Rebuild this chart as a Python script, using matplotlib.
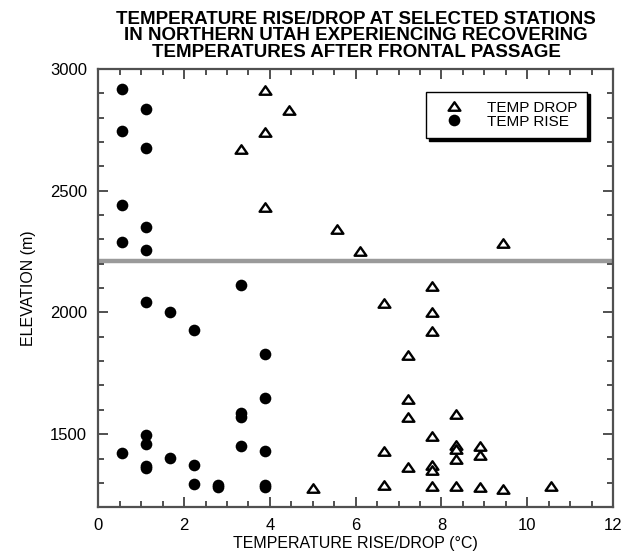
import numpy as np
import matplotlib
matplotlib.use("Agg")
import matplotlib.pyplot as plt
from matplotlib.path import Path
from matplotlib.ticker import MultipleLocator

# temperature rise (recovering stations), deg C and elevation (m)
rise_temp = [0.56, 0.56, 0.56, 0.56, 0.56,
             1.11, 1.11, 1.11, 1.11, 1.11, 1.11, 1.11, 1.11, 1.11,
             1.67, 1.67,
             2.22, 2.22, 2.22,
             2.78, 2.78,
             3.33, 3.33, 3.33, 3.33,
             3.89, 3.89, 3.89, 3.89, 3.89]
rise_elev = [2917, 2745, 2440, 2290, 1422,
             2836, 2673, 2352, 2258, 2043, 1497, 1460, 1370, 1363,
             2002, 1404,
             1928, 1374, 1295,
             1292, 1284,
             2114, 1589, 1572, 1453,
             1830, 1648, 1433, 1290, 1282]

# temperature drop
drop_temp = [3.33,
             3.89, 3.89, 3.89,
             4.44,
             5.00,
             5.56,
             6.11,
             6.67, 6.67, 6.67,
             7.22, 7.22, 7.22, 7.22,
             7.78, 7.78, 7.78, 7.78, 7.78, 7.78, 7.78,
             8.33, 8.33, 8.33, 8.33, 8.33,
             8.89, 8.89, 8.89,
             9.44, 9.44,
             10.56]
drop_elev = [2670,
             2911, 2740, 2434,
             2832,
             1279,
             2344,
             2254,
             2040, 1429, 1292,
             1825, 1645, 1570, 1367,
             2109, 2001, 1924, 1493, 1373, 1355, 1288,
             1583, 1456, 1438, 1397, 1288,
             1452, 1415, 1283,
             2283, 1275,
             1288]

divide_elev = 2210

plt.rcParams['font.family'] = ['Liberation Sans', 'DejaVu Sans']

frame = '#505050'
tri = Path([(-1, -0.72), (1, -0.72), (0, 0.72), (-1, -0.72)],
           [Path.MOVETO, Path.LINETO, Path.LINETO, Path.CLOSEPOLY])

fig = plt.figure(figsize=(6.3, 5.55), dpi=100)
ax = fig.add_axes([0.156, 0.086, 0.817, 0.79])

ax.axhline(divide_elev, color='#9a9a9a', lw=3.2, zorder=1)

ax.plot(drop_temp, drop_elev, ls='none', marker=tri, ms=8.5, mfc='white',
        mec='black', mew=1.7, label='TEMP DROP', zorder=3)
ax.plot(rise_temp, rise_elev, ls='none', marker='o', ms=8.4, mfc='black',
        mec='black', mew=0, label='TEMP RISE', zorder=3)

ax.set_xlim(0, 12)
ax.set_ylim(1200, 3000)
ax.xaxis.set_major_locator(MultipleLocator(2))
ax.xaxis.set_minor_locator(MultipleLocator(0.5))
ax.yaxis.set_major_locator(MultipleLocator(500))
ax.yaxis.set_minor_locator(MultipleLocator(100))
ax.tick_params(which='both', direction='in', top=True, right=True,
               color=frame, width=1.4)
ax.tick_params(which='major', length=7, labelsize=12, pad=8)
ax.tick_params(which='minor', length=4)
ax.set_yticks([1500, 2000, 2500, 3000])
for s in ax.spines.values():
    s.set_color(frame)
    s.set_linewidth(1.6)

ax.set_xlabel('TEMPERATURE RISE/DROP (°C)', fontsize=11.5, labelpad=2)
ax.set_ylabel('ELEVATION (m)', fontsize=11.5, labelpad=10)

leg = ax.legend(loc='upper right', bbox_to_anchor=(0.949, 0.948),
                borderaxespad=0, fancybox=False, edgecolor='black',
                framealpha=1, shadow={'color': 'black', 'alpha': 1},
                fontsize=11, labelspacing=0.0, handletextpad=1.0,
                handlelength=2.4, borderpad=0.6)
leg.get_frame().set_linewidth(1.0)

fig.text(0.565, 0.981,
         'TEMPERATURE RISE/DROP AT SELECTED STATIONS\n'
         'IN NORTHERN UTAH EXPERIENCING RECOVERING\n'
         'TEMPERATURES AFTER FRONTAL PASSAGE',
         ha='center', va='top', fontsize=13.5, fontweight='bold',
         linespacing=0.98)

fig.savefig('out.png', dpi=100)
